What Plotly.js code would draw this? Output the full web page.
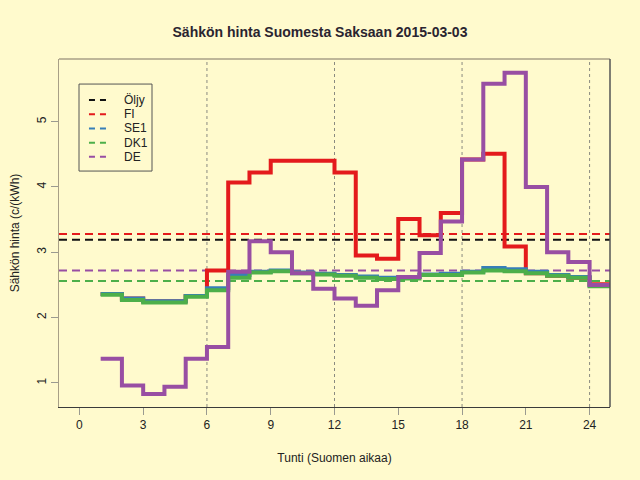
<!DOCTYPE html>
<html>
<head>
<meta charset="utf-8">
<script src="https://cdn.plot.ly/plotly-3.0.1.min.js"></script>
<style>
  html, body { margin: 0; padding: 0; background: #fffacd; }
  #chart { width: 640px; height: 480px; }
</style>
</head>
<body>
<div id="chart"></div>
<script>
// Tunnit (Suomen aikaa), arvot luettu kuvasta
const hours = [1, 2, 3, 4, 5, 6, 7, 8, 9, 10, 11, 12, 13, 14, 15, 16, 17, 18, 19, 20, 21, 22, 23, 24];
const fiPrice  = [2.36, 2.29, 2.25, 2.25, 2.33, 2.72, 4.07, 4.22, 4.40, 4.40, 4.40, 4.22, 2.95, 2.90, 3.51, 3.26, 3.60, 4.42, 4.51, 3.09, 2.68, 2.64, 2.61, 2.51];
const se1Price = [2.36, 2.29, 2.25, 2.25, 2.33, 2.45, 2.65, 2.70, 2.72, 2.69, 2.67, 2.65, 2.63, 2.61, 2.62, 2.66, 2.67, 2.70, 2.76, 2.74, 2.70, 2.65, 2.62, 2.49];
const dk1Price = [2.35, 2.27, 2.23, 2.23, 2.32, 2.42, 2.61, 2.69, 2.71, 2.68, 2.66, 2.64, 2.61, 2.59, 2.60, 2.65, 2.65, 2.69, 2.72, 2.71, 2.68, 2.64, 2.61, 2.48];
const dePrice  = [1.37, 0.96, 0.83, 0.94, 1.37, 1.55, 2.70, 3.17, 3.00, 2.68, 2.44, 2.29, 2.18, 2.42, 2.62, 2.99, 3.47, 4.42, 5.58, 5.75, 4.00, 3.00, 2.85, 2.50];

// Keskiarvot ja öljyn hinta (katkoviivat)
const refNames  = ['Öljy', 'FI', 'SE1', 'DK1', 'DE'];
const refLevels = [3.19, 3.28, 2.56, 2.56, 2.72];
const refColors = ['#111111', '#e41a1c', '#377eb8', '#4daf4a', '#984ea3'];

const xTicks = [0, 3, 6, 9, 12, 15, 18, 21, 24];
const yTicks = [1, 2, 3, 4, 5];
const markHours = [6, 12, 18, 24];

const xRange = [-0.96, 24.96];
const yRange = [0.63, 5.96];

// porrasviiva jatkuu viimeisen tunnin loppuun
function stepTrace(vals, color, width) {
    return {
        x: hours.concat([hours[hours.length - 1] + 1]),
        y: vals.concat([vals[vals.length - 1]]),
        mode: 'lines', line: { shape: 'hv', color: color, width: width },
        showlegend: false, hoverinfo: 'none'
    };
}

const data = [];
refNames.forEach((name, i) => {
    data.push({
        x: xRange, y: [refLevels[i], refLevels[i]],
        mode: 'lines', name: name, showlegend: false,
        line: { color: refColors[i], dash: '8px,5px', width: 2 },
        hoverinfo: 'none'
    });
});
data.push(stepTrace(fiPrice, '#e41a1c', 4));
data.push(stepTrace(se1Price, '#377eb8', 4));
data.push(stepTrace(dk1Price, '#4daf4a', 4));
data.push(stepTrace(dePrice, '#984ea3', 4));

const shapes = markHours.map(h => ({
    type: 'line', xref: 'x', yref: 'paper', x0: h, x1: h, y0: 0, y1: 1,
    line: { color: '#8a8a80', width: 1, dash: 'dot' }, layer: 'below'
}));
// kehys: ylä- ja oikea reuna
shapes.push({ type: 'line', xref: 'paper', yref: 'paper', x0: 0, x1: 1, y0: 1, y1: 1, line: { color: '#a89f86', width: 1.5 } });
shapes.push({ type: 'line', xref: 'paper', yref: 'paper', x0: 1, x1: 1, y0: 0, y1: 1, line: { color: '#555555', width: 1.5 } });

// oma selite (R-tyylinen tiivis laatikko)
const annotations = [];
shapes.push({ type: 'rect', xref: 'paper', yref: 'paper', x0: 0.0363, x1: 0.1688, y0: 0.678, y1: 0.928,
    line: { color: '#555555', width: 1 }, fillcolor: '#fffacd' });
refNames.forEach((name, i) => {
    const yy = 0.882 - i * 0.0408;
    shapes.push({ type: 'line', xref: 'paper', yref: 'paper', x0: 0.0544, x1: 0.0889, y0: yy, y1: yy,
        line: { color: refColors[i], width: 2, dash: '6px,5px' } });
    annotations.push({ xref: 'paper', yref: 'paper', x: 0.114, y: yy, xanchor: 'left', yanchor: 'middle',
        text: name, showarrow: false, font: { size: 12, color: '#222222' } });
});

const font = { family: 'Liberation Sans, Arial, sans-serif', size: 12, color: '#222222' };

const layout = {
    width: 640, height: 480,
    paper_bgcolor: '#fffacd', plot_bgcolor: '#fffacd',
    margin: { l: 59, r: 30, t: 59, b: 73 },
    font: font,
    title: {
        text: '<b>Sähkön hinta Suomesta Saksaan 2015-03-03</b>',
        font: { family: font.family, size: 14, color: '#2a2430' },
        x: 0.5, xanchor: 'center', y: 0.933, yanchor: 'middle'
    },
    xaxis: {
        range: xRange, tickvals: xTicks, ticktext: xTicks.map(String),
        showgrid: false, zeroline: false,
        showline: true, linecolor: '#3a3a3a', linewidth: 1,
        ticks: 'outside', ticklen: 7, tickcolor: '#9a9a90', tickwidth: 1,
        title: { text: 'Tunti (Suomen aikaa)', font: { size: 12 }, standoff: 22 }
    },
    yaxis: {
        range: yRange, tickvals: yTicks, ticktext: yTicks.map(String),
        showgrid: false, zeroline: false, tickangle: -90,
        showline: true, linecolor: '#a89f86', linewidth: 1.5,
        ticks: 'outside', ticklen: 7, tickcolor: '#9a9a90', tickwidth: 1,
        title: { text: 'Sähkön hinta (c/(kWh)', font: { size: 12 }, standoff: 12 }
    },
    shapes: shapes,
    annotations: annotations,
    showlegend: false
};

Plotly.newPlot('chart', data, layout, { staticPlot: true });
</script>
</body>
</html>
